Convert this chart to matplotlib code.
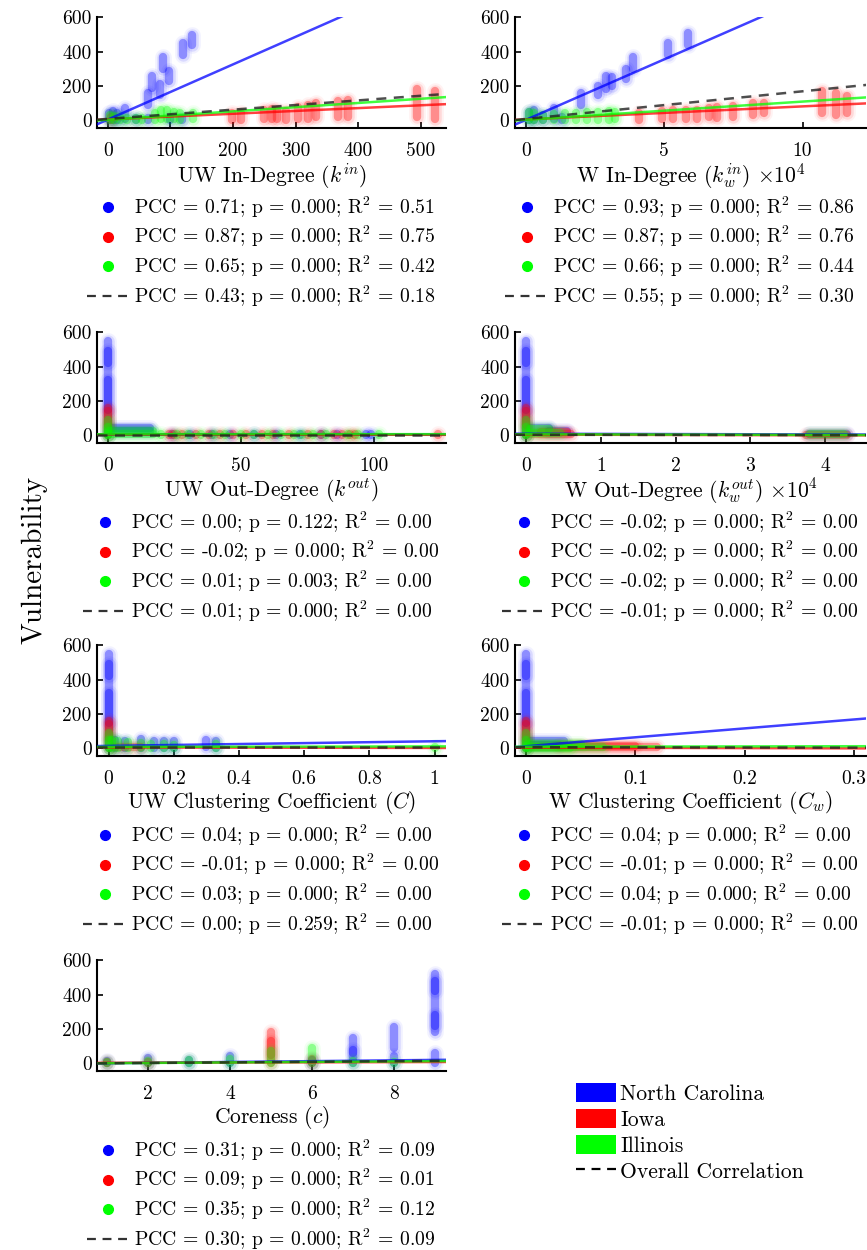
import numpy as np
import matplotlib
matplotlib.use("Agg")
import matplotlib.pyplot as plt
from matplotlib.collections import LineCollection
from matplotlib.lines import Line2D
from matplotlib.patches import Patch
from matplotlib.ticker import FuncFormatter

plt.rcParams["font.family"] = ["cmr10", "DejaVu Serif"]
plt.rcParams["mathtext.fontset"] = "cm"
plt.rcParams["axes.unicode_minus"] = False
plt.rcParams["axes.formatter.use_mathtext"] = True

# ---------------- data ----------------
# blobs: (x_from, x_to, y_from, y_to) -> extent of each point cloud
states = ["North Carolina", "Iowa", "Illinois"]
state_colors = ["#0000ff", "#ff0000", "#00ff00"]

# UW in-degree
kin_blue = [(2, 2, 0, 45), (8, 8, 0, 55), (14, 14, 0, 40), (28, 28, 10, 70), (45, 45, 0, 15),
            (65, 65, 0, 15), (100, 100, 0, 15), (118, 118, 0, 15), (65, 65, 90, 160),
            (70, 70, 190, 260), (83, 83, 150, 210), (88, 88, 300, 370), (97, 97, 230, 290),
            (120, 120, 380, 450), (135, 135, 440, 500)]
kin_red = [(5, 5, 0, 20), (198, 198, 0, 45), (213, 213, 0, 45), (250, 250, 5, 60), (262, 262, 5, 65),
           (270, 270, 5, 60), (285, 285, 0, 55), (303, 303, 10, 80), (320, 320, 10, 90),
           (333, 333, 20, 100), (367, 367, 20, 110), (383, 383, 20, 120), (493, 493, 20, 180),
           (522, 522, 10, 170)]
kin_green = [(3, 3, 0, 30), (10, 10, 0, 25), (20, 20, 0, 20), (30, 30, 0, 15), (45, 45, 0, 15),
             (55, 55, 0, 15), (75, 75, 0, 40), (85, 85, 10, 60), (95, 95, 10, 60), (105, 105, 10, 50),
             (115, 115, 0, 40), (136, 136, 5, 40)]
kin_fit = [(4, 1.61), (5, 0.165), (3, 0.245), (8, 0.27)]          # (intercept, slope)
kin_pcc = [0.71, 0.87, 0.65, 0.43]
kin_p = [0.000, 0.000, 0.000, 0.000]
kin_r2 = [0.51, 0.75, 0.42, 0.18]

# W in-degree (x 1e4)
kinw_blue = [(0.1, 0.1, 0, 50), (0.3, 0.3, 0, 60), (0.6, 0.6, 0, 30), (1.0, 1.0, 10, 70), (1.3, 1.3, 0, 20),
             (2.0, 2.0, 90, 160), (2.6, 2.6, 150, 200), (2.9, 2.9, 180, 260), (3.1, 3.1, 200, 250),
             (3.6, 3.6, 240, 300), (3.85, 3.85, 300, 370), (5.15, 5.15, 380, 450), (5.85, 5.85, 440, 510)]
kinw_red = [(4.1, 4.1, 0, 45), (4.9, 4.9, 10, 55), (5.3, 5.3, 10, 60), (5.8, 5.8, 10, 60), (6.2, 6.2, 10, 60),
            (6.6, 6.6, 20, 70), (6.9, 6.9, 15, 80), (7.5, 7.5, 20, 85), (8.2, 8.2, 30, 100),
            (8.6, 8.6, 40, 100), (10.7, 10.7, 40, 170), (11.2, 11.2, 30, 160), (11.6, 11.6, 40, 140)]
kinw_green = [(0.1, 0.1, 0, 50), (0.3, 0.3, 0, 40), (0.6, 0.6, 0, 30), (1.0, 1.0, 0, 35), (1.4, 1.4, 0, 40),
              (1.8, 1.8, 0, 45), (2.2, 2.2, 0, 50), (2.6, 2.6, 0, 50), (3.0, 3.0, 0, 55), (3.2, 3.2, 5, 50)]
kinw_fit = [(3, 70.5), (5, 7.6), (3, 10.6), (8, 16.1)]
kinw_pcc = [0.93, 0.87, 0.66, 0.55]
kinw_p = [0.000, 0.000, 0.000, 0.000]
kinw_r2 = [0.86, 0.76, 0.44, 0.30]

# UW out-degree
kout_blue = [(0, 0, 0, 550), (0, 0, 150, 320), (0, 0, 420, 490), (2, 16, 45, 45), (2, 16, 25, 25)] + \
            [(x, x, 0, 8) for x in [24, 31, 39, 46, 55, 63, 72, 80, 86, 97, 99]]
kout_red = [(0, 0, 0, 160), (0, 0, 60, 140)] + \
           [(x, x, 0, 8) for x in [23, 25, 28, 33, 38, 42, 47, 52, 58, 62, 68, 75, 80, 85, 88, 91, 93, 124]]
kout_green = [(0, 0, 0, 90), (0, 0, 0, 50), (0.5, 17, 25, 25), (0.5, 17, 5, 5)] + \
             [(x, x, 0, 8) for x in [20, 26, 30, 35, 40, 44, 50, 55, 60, 65, 70, 73, 77, 82, 90, 94, 102]]
kout_fit = [(9, 0.0), (4, -0.01), (6, 0.005), (4, 0.0)]
kout_pcc = [0.00, -0.02, 0.01, 0.01]
kout_p = [0.122, 0.000, 0.003, 0.000]
kout_r2 = [0.00, 0.00, 0.00, 0.00]

# W out-degree (x 1e4)
koutw_blue = [(0, 0, 0, 550), (0, 0, 150, 320), (0, 0, 420, 490), (0.05, 0.3, 40, 40),
              (0.3, 0.55, 25, 25), (3.78, 4.3, 8, 8)]
koutw_red = [(0, 0, 0, 160), (0, 0, 60, 140), (0.05, 0.6, 10, 10), (0.2, 0.55, 20, 20), (3.75, 4.3, 3, 3)]
koutw_green = [(0, 0, 0, 90), (0, 0, 0, 50), (0.05, 0.45, 15, 15), (0.05, 0.3, 35, 35), (3.8, 4.25, 5, 5)]
koutw_fit = [(9, -1.0), (4, -1.0), (6, -1.0), (3, -0.5)]
koutw_pcc = [-0.02, -0.02, -0.02, -0.01]
koutw_p = [0.000, 0.000, 0.000, 0.000]
koutw_r2 = [0.00, 0.00, 0.00, 0.00]

# UW clustering coefficient
cc_blue = [(0, 0, 0, 550), (0, 0, 150, 320), (0, 0, 420, 490), (0.02, 0.02, 0, 50), (0.05, 0.05, 0, 45),
           (0.1, 0.1, 0, 55), (0.14, 0.14, 0, 45), (0.17, 0.17, 0, 40), (0.2, 0.2, 0, 45),
           (0.3, 0.3, 5, 50), (0.33, 0.33, 0, 40)]
cc_red = [(0, 0, 0, 160), (0, 0, 60, 140), (0.02, 0.1, 5, 5)]
cc_green = [(0, 0, 0, 90), (0, 0, 0, 50), (0.01, 0.01, 0, 50), (0.03, 0.03, 0, 40), (0.06, 0.06, 0, 35),
            (0.1, 0.1, 0, 30), (0.13, 0.13, 0, 25), (0.17, 0.17, 0, 25), (0.2, 0.2, 0, 20),
            (0.33, 0.33, 0, 25), (1.0, 1.0, 0, 5)]
cc_fit = [(14, 27), (5, -3), (8, 3), (8, 0)]
cc_pcc = [0.04, -0.01, 0.03, 0.00]
cc_p = [0.000, 0.000, 0.000, 0.259]
cc_r2 = [0.00, 0.00, 0.00, 0.00]

# W clustering coefficient
ccw_blue = [(0, 0, 0, 550), (0, 0, 150, 320), (0, 0, 420, 490), (0.005, 0.035, 40, 40), (0.005, 0.03, 20, 20)]
ccw_red = [(0, 0, 0, 160), (0, 0, 60, 140), (0.005, 0.12, 10, 10), (0.03, 0.1, 15, 15)]
ccw_green = [(0, 0, 0, 90), (0, 0, 0, 50), (0.002, 0.07, 10, 10), (0.002, 0.05, 25, 25), (0.002, 0.04, 0, 0)]
ccw_fit = [(12, 520), (4, -15), (9, 10), (6, -8)]
ccw_pcc = [0.04, -0.01, 0.04, -0.01]
ccw_p = [0.000, 0.000, 0.000, 0.000]
ccw_r2 = [0.00, 0.00, 0.00, 0.00]

# coreness
core_blue = [(1, 1, 0, 15), (2, 2, 0, 30), (3, 3, 0, 20), (4, 4, 0, 40), (6, 6, 0, 20), (7, 7, 0, 80),
             (7, 7, 60, 150), (8, 8, 0, 40), (8, 8, 90, 210), (9, 9, 0, 60), (9, 9, 180, 520),
             (9, 9, 220, 280), (9, 9, 420, 480)]
core_red = [(1, 1, 0, 10), (2, 2, 0, 8), (5, 5, 0, 180), (5, 5, 50, 130), (6, 6, 0, 25)]
core_green = [(1, 1, 0, 5), (2, 2, 0, 15), (3, 3, 0, 20), (4, 4, 0, 25), (5, 5, 0, 70), (6, 6, 0, 90),
              (7, 7, 0, 15), (8, 8, 0, 8)]
core_fit = [(-2, 2.4), (2, 0.6), (-1, 1.5), (-2, 1.8)]
core_pcc = [0.31, 0.09, 0.35, 0.30]
core_p = [0.000, 0.000, 0.000, 0.000]
core_r2 = [0.09, 0.01, 0.12, 0.09]

panels = [
    ("UW In-Degree ($k^{in}$)", (kin_blue, kin_red, kin_green), kin_fit, kin_pcc, kin_p, kin_r2,
     (-17, 540), [0, 100, 200, 300, 400, 500]),
    ("W In-Degree ($k_w^{in}$) $\\times10^4$", (kinw_blue, kinw_red, kinw_green), kinw_fit, kinw_pcc, kinw_p,
     kinw_r2, (-0.4, 12.3), [0, 5, 10]),
    ("UW Out-Degree ($k^{out}$)", (kout_blue, kout_red, kout_green), kout_fit, kout_pcc, kout_p, kout_r2,
     (-4, 127), [0, 50, 100]),
    ("W Out-Degree ($k_w^{out}$) $\\times10^4$", (koutw_blue, koutw_red, koutw_green), koutw_fit, koutw_pcc,
     koutw_p, koutw_r2, (-0.15, 4.55), [0, 1, 2, 3, 4]),
    ("UW Clustering Coefficient ($C$)", (cc_blue, cc_red, cc_green), cc_fit, cc_pcc, cc_p, cc_r2,
     (-0.035, 1.035), [0, 0.2, 0.4, 0.6, 0.8, 1]),
    ("W Clustering Coefficient ($C_w$)", (ccw_blue, ccw_red, ccw_green), ccw_fit, ccw_pcc, ccw_p, ccw_r2,
     (-0.01, 0.311), [0, 0.1, 0.2, 0.3]),
    ("Coreness ($c$)", (core_blue, core_red, core_green), core_fit, core_pcc, core_p, core_r2,
     (0.75, 9.28), [2, 4, 6, 8]),
]

# ---------------- figure ----------------
fig = plt.figure(figsize=(8.67, 12.5), dpi=100)
row_bottoms = [0.8976, 0.6456, 0.3952, 0.1432]
col_lefts = [0.112, 0.594]
col_widths = [0.4025, 0.405]

FS_TICK = 14
FS_LABEL = 15.5
FS_LEG = 14.2
DASH = (0, (4, 3))

for k, (xlabel, blobs, fits, pcc, pval, r2, xlim, xticks) in enumerate(panels):
    r, c = divmod(k, 2)
    ax = fig.add_axes([col_lefts[c], row_bottoms[r], col_widths[c], 0.0885])

    # soft translucent clouds: wide faint halo + denser core
    for segs, col in zip(blobs, state_colors):
        arr = np.array(segs, float)
        lines = [[(a[0], a[2]), (a[1], a[3])] for a in arr]
        for lw, al in [(12, 0.05), (9, 0.10), (6, 0.35)]:
            ax.add_collection(LineCollection(lines, colors=col, linewidths=lw, alpha=al, capstyle="round"))

    xs = np.array(xlim)
    for (b0, b1), col in zip(fits[:3], state_colors):
        ax.plot(xs, b0 + b1 * xs, color=col, lw=1.8, alpha=0.75, zorder=3)
    ax.plot(xs, fits[3][0] + fits[3][1] * xs, color="#222222", lw=1.8, alpha=0.8, ls=DASH, zorder=4)

    ax.set_xlim(*xlim)
    ax.set_ylim(-45, 600)
    ax.set_xticks(xticks)
    ax.set_yticks([0, 200, 400, 600])
    ax.xaxis.set_major_formatter(FuncFormatter(lambda v, pos: f"{v:g}"))
    ax.yaxis.set_major_formatter(FuncFormatter(lambda v, pos: f"{v:g}"))
    for s in ["top", "right"]:
        ax.spines[s].set_visible(False)
    for s in ["left", "bottom"]:
        ax.spines[s].set_linewidth(1.5)
    ax.tick_params(direction="in", length=4, width=1.2, labelsize=FS_TICK)
    ax.tick_params(axis="x", pad=10)
    ax.tick_params(axis="y", pad=4)
    ax.set_xlabel(xlabel, fontsize=FS_LABEL, labelpad=1)

    handles = [Line2D([], [], ls="", marker="o", ms=7, color=col) for col in state_colors]
    handles.append(Line2D([], [], ls=DASH, color="#333333", lw=1.6))
    labels = [f"PCC = {a:.2f}; p = {b:.3f}; R$^2$ = {d:.2f}" for a, b, d in zip(pcc, pval, r2)]
    ax.legend(handles, labels, loc="upper center", bbox_to_anchor=(0.47, -0.6), frameon=False,
              fontsize=FS_LEG, handlelength=2.2, handletextpad=0.2, labelspacing=0.22,
              borderpad=0, borderaxespad=0)

fig.text(0.04, 0.552, "Vulnerability", rotation=90, ha="center", va="center", fontsize=21)

leg_handles = [Patch(facecolor=col, edgecolor="none") for col in state_colors]
leg_handles.append(Line2D([], [], ls=DASH, color="black", lw=1.6))
fig.legend(leg_handles, states + ["Overall Correlation"], loc="upper left",
           bbox_to_anchor=(576 / 867, 1 - 1083 / 1250), frameon=False, fontsize=15.6,
           handlelength=1.85, handleheight=1.0, handletextpad=0.2, labelspacing=0.22,
           borderpad=0, borderaxespad=0)

fig.savefig("out.png", dpi=100, facecolor="white")
